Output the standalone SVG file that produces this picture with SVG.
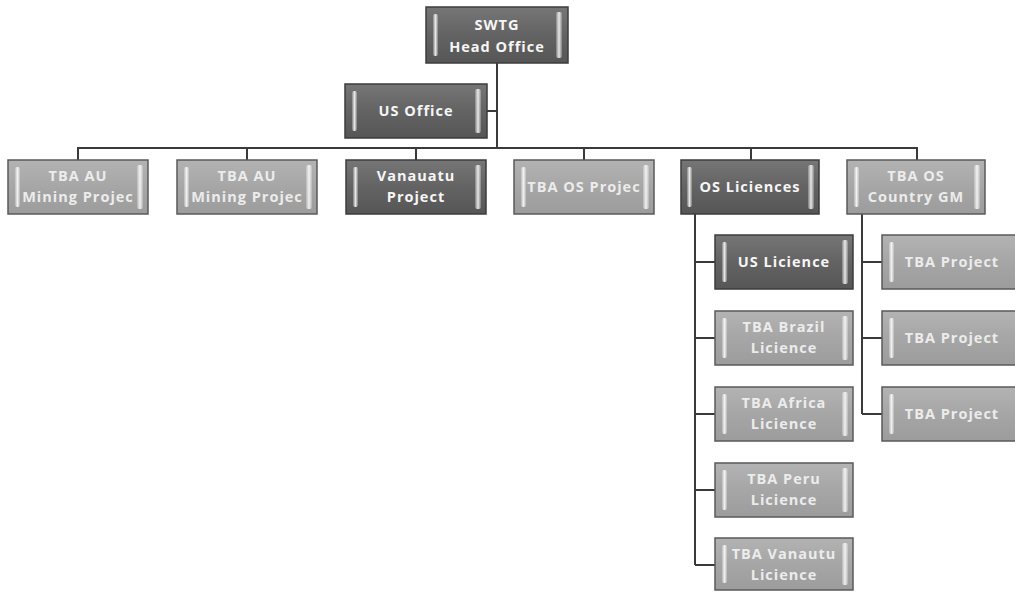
<svg xmlns="http://www.w3.org/2000/svg" width="1015" height="592" viewBox="0 0 1015 592">
<defs>
<linearGradient id="gDark" x1="0" y1="0" x2="0" y2="1">
<stop offset="0" stop-color="#767676"/><stop offset="0.5" stop-color="#636363"/><stop offset="1" stop-color="#565656"/>
</linearGradient>
<linearGradient id="gLight" x1="0" y1="0" x2="0" y2="1">
<stop offset="0" stop-color="#b3b3b3"/><stop offset="0.5" stop-color="#a6a6a6"/><stop offset="1" stop-color="#9c9c9c"/>
</linearGradient>
<linearGradient id="gStrip" x1="0" y1="0" x2="1" y2="0">
<stop offset="0" stop-color="#ffffff" stop-opacity="0.2"/><stop offset="0.5" stop-color="#ffffff" stop-opacity="0.85"/><stop offset="1" stop-color="#ffffff" stop-opacity="0.2"/>
</linearGradient>
<clipPath id="clipPage"><rect x="0" y="0" width="1015" height="592"/></clipPath>
</defs>
<style>
.dark{fill:url(#gDark);stroke:#3c3c3c;stroke-width:1.5}
.light{fill:url(#gLight);stroke:#5a5a5a;stroke-width:1.5}
.strip{fill:url(#gStrip)}
.t{font-family:"Open Sans","Liberation Sans",sans-serif;font-weight:bold;font-size:14.5px;fill:#f6f6f6;text-anchor:middle;letter-spacing:1px}
.lt{fill:#ececec}
.conn{fill:none;stroke:#3a3a3a;stroke-width:2}
</style>
<rect width="1015" height="592" fill="#ffffff"/>
<g id="connectors">
<path class="conn" d="M497 63 V148"/>
<path class="conn" d="M487 111 H497"/>
<path class="conn" d="M78 160 V148 H917 V160"/>
<path class="conn" d="M247 148 V160 M416 148 V160 M584 148 V160 M751 148 V160"/>
<path class="conn" d="M695 214 V565 M695 262 H715 M695 338 H715 M695 414 H715 M695 490 H715 M695 565 H715"/>
<path class="conn" d="M862 214 V414 M862 262 H882 M862 338 H882 M862 414 H882"/>
</g>
<g id="head">
<rect class="dark" x="426" y="7" width="142" height="56"/>
<rect class="strip" x="433" y="14" width="5" height="42" rx="2"/>
<rect class="strip" x="556" y="12" width="6" height="46" rx="2"/>
<text class="t" x="497" y="30">SWTG</text>
<text class="t" x="497" y="52">Head Office</text>
</g>
<g id="us-office">
<rect class="dark" x="345" y="84" width="142" height="54"/>
<rect class="strip" x="352" y="91" width="5" height="40" rx="2"/>
<rect class="strip" x="475" y="89" width="6" height="44" rx="2"/>
<text class="t" x="416" y="116">US Office</text>
</g>
<g id="au-mining-1" clip-path="url(#clipPage)">
<rect class="light" x="8" y="160" width="140" height="54"/>
<text class="t lt" x="78" y="181">TBA  AU</text>
<text class="t lt" x="78" y="202">Mining Projec</text>
<rect class="strip" x="15" y="167" width="5" height="40" rx="2"/>
<rect class="strip" x="137" y="165" width="6" height="44" rx="2"/>
</g>
<g id="au-mining-2">
<rect class="light" x="177" y="160" width="140" height="54"/>
<text class="t lt" x="247" y="181">TBA AU</text>
<text class="t lt" x="247" y="202">Mining Projec</text>
<rect class="strip" x="184" y="167" width="5" height="40" rx="2"/>
<rect class="strip" x="306" y="165" width="6" height="44" rx="2"/>
</g>
<g id="vanuatu-project">
<rect class="dark" x="346" y="160" width="140" height="54"/>
<rect class="strip" x="353" y="167" width="5" height="40" rx="2"/>
<rect class="strip" x="475" y="165" width="6" height="44" rx="2"/>
<text class="t" x="416" y="181">Vanauatu</text>
<text class="t" x="416" y="202">Project</text>
</g>
<g id="os-project">
<rect class="light" x="514" y="160" width="140" height="54"/>
<text class="t lt" x="584" y="192">TBA OS Projec</text>
<rect class="strip" x="521" y="167" width="5" height="40" rx="2"/>
<rect class="strip" x="643" y="165" width="6" height="44" rx="2"/>
</g>
<g id="os-licences">
<rect class="dark" x="681" y="160" width="138" height="54"/>
<text class="t" x="750" y="192">OS Liciences</text>
<rect class="strip" x="687" y="167" width="5" height="40" rx="2"/>
<rect class="strip" x="808" y="165" width="6" height="44" rx="2"/>
</g>
<g id="os-country-gm">
<rect class="light" x="847" y="160" width="138" height="54"/>
<rect class="strip" x="854" y="167" width="5" height="40" rx="2"/>
<rect class="strip" x="974" y="165" width="6" height="44" rx="2"/>
<text class="t lt" x="916" y="181">TBA OS</text>
<text class="t lt" x="916" y="202">Country GM</text>
</g>
<g id="us-licence">
<rect class="dark" x="715" y="235" width="138" height="54"/>
<rect class="strip" x="722" y="242" width="5" height="40" rx="2"/>
<rect class="strip" x="842" y="240" width="6" height="44" rx="2"/>
<text class="t" x="784" y="267">US Licience</text>
</g>
<g id="brazil-licence">
<rect class="light" x="715" y="311" width="138" height="54"/>
<rect class="strip" x="722" y="318" width="5" height="40" rx="2"/>
<rect class="strip" x="842" y="316" width="6" height="44" rx="2"/>
<text class="t lt" x="784" y="332">TBA Brazil</text>
<text class="t lt" x="784" y="353">Licience</text>
</g>
<g id="africa-licence">
<rect class="light" x="715" y="387" width="138" height="54"/>
<rect class="strip" x="722" y="394" width="5" height="40" rx="2"/>
<rect class="strip" x="842" y="392" width="6" height="44" rx="2"/>
<text class="t lt" x="784" y="408">TBA Africa</text>
<text class="t lt" x="784" y="429">Licience</text>
</g>
<g id="peru-licence">
<rect class="light" x="715" y="463" width="138" height="54"/>
<rect class="strip" x="722" y="470" width="5" height="40" rx="2"/>
<rect class="strip" x="842" y="468" width="6" height="44" rx="2"/>
<text class="t lt" x="784" y="484">TBA  Peru</text>
<text class="t lt" x="784" y="505">Licience</text>
</g>
<g id="vanuatu-licence">
<rect class="light" x="715" y="538" width="138" height="52"/>
<text class="t lt" x="784" y="559">TBA  Vanautu</text>
<text class="t lt" x="784" y="580">Licience</text>
<rect class="strip" x="722" y="545" width="5" height="38" rx="2"/>
<rect class="strip" x="842" y="543" width="6" height="42" rx="2"/>
</g>
<g id="project-1">
<rect class="light" x="882" y="235" width="140" height="54"/>
<text class="t lt" x="952" y="267">TBA Project</text>
<rect class="strip" x="889" y="242" width="5" height="40" rx="2"/>
</g>
<g id="project-2">
<rect class="light" x="882" y="311" width="140" height="54"/>
<text class="t lt" x="952" y="343">TBA Project</text>
<rect class="strip" x="889" y="318" width="5" height="40" rx="2"/>
</g>
<g id="project-3">
<rect class="light" x="882" y="387" width="140" height="54"/>
<text class="t lt" x="952" y="419">TBA Project</text>
<rect class="strip" x="889" y="394" width="5" height="40" rx="2"/>
</g>
</svg>
